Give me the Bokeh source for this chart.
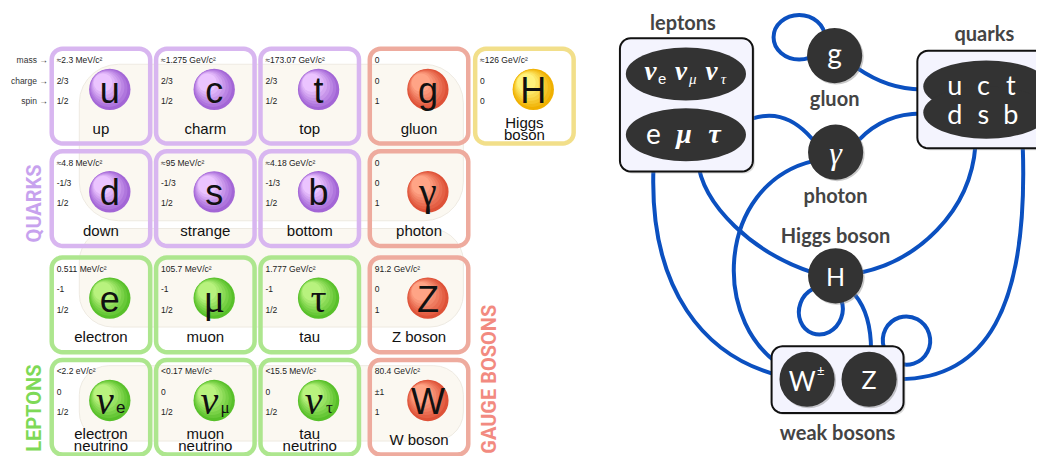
import numpy as np
from bokeh.plotting import figure
from bokeh.models import Range1d
from bokeh.embed import file_html
from bokeh.resources import INLINE
from bokeh.core.properties import value

# ---------------- DATA ----------------
symbols = ["u", "c", "t", "d", "s", "b", "e", "μ", "τ", "ν", "ν", "ν", "g", "γ", "Z", "W", "H"]
subscripts = ["", "", "", "", "", "", "", "", "", "e", "μ", "τ", "", "", "", "", ""]
names_1 = ["up", "charm", "top", "down", "strange", "bottom", "electron", "muon", "tau",
           "electron", "muon", "tau", "gluon", "photon", "Z boson", "W boson", "Higgs"]
names_2 = ["", "", "", "", "", "", "", "", "", "neutrino", "neutrino", "neutrino", "", "", "", "", "boson"]
masses = ["≈2.3 MeV/c²", "≈1.275 GeV/c²", "≈173.07 GeV/c²", "≈4.8 MeV/c²", "≈95 MeV/c²", "≈4.18 GeV/c²",
          "0.511 MeV/c²", "105.7 MeV/c²", "1.777 GeV/c²", "<2.2 eV/c²", "<0.17 MeV/c²", "<15.5 MeV/c²",
          "0", "0", "91.2 GeV/c²", "80.4 GeV/c²", "≈126 GeV/c²"]
charges = ["2/3", "2/3", "2/3", "-1/3", "-1/3", "-1/3", "-1", "-1", "-1", "0", "0", "0", "0", "0", "0", "±1", "0"]
spins = ["1/2"] * 12 + ["1", "1", "1", "1", "0"]
families = ["quark"] * 6 + ["lepton"] * 6 + ["boson"] * 4 + ["higgs"]
grid_rows = [0, 0, 0, 1, 1, 1, 2, 2, 2, 3, 3, 3, 0, 1, 2, 3, 0]
grid_cols = [0, 1, 2, 0, 1, 2, 0, 1, 2, 0, 1, 2, 3, 3, 3, 3, 4]
row_headers = ["mass →", "charge →", "spin →"]
group_titles = ["QUARKS", "LEPTONS", "GAUGE BOSONS"]

# interaction diagram
diagram_nodes = ["g", "γ", "H", "W", "Z"]
diagram_node_labels = ["gluon", "photon", "Higgs boson", "", ""]
diagram_groups = ["leptons", "quarks", "weak bosons"]
lepton_rows = [["ν", "ν", "ν"], ["e", "μ", "τ"]]
neutrino_subs = ["e", "μ", "τ"]
quark_rows = [["u", "c", "t"], ["d", "s", "b"]]
edges = [("leptons", "W"), ("eμτ", "γ"), ("eμτ", "H"), ("γ", "W"), ("g", "quarks"),
         ("γ", "quarks"), ("quarks", "H"), ("quarks", "Z"), ("H", "Z")]
self_loops = ["g", "H", "Z"]

# ---------------- LAYOUT / STYLE ----------------
COL_X = [52, 158, 264, 375, 482]
ROW_Y = [50, 156, 266, 372]
CELL = 100
fam_border = {"quark": "#d8b6f0", "lepton": "#ade68e", "boson": "#eeab9e", "higgs": "#f2df8a"}
fam_dark = {"quark": "#a366d6", "lepton": "#58c02a", "boson": "#de5238", "higgs": "#f0b000"}
fam_light = {"quark": "#ebc4ff", "lepton": "#b8f27e", "boson": "#ffa486", "higgs": "#fff27c"}
title_colors = ["#c7a2ee", "#7ed957", "#f28a80"]
BLUE = "#0b50c0"
NODE = "#333333"

p = figure(width=1036, height=456, x_range=Range1d(0, 1052), y_range=Range1d(472, 0),
           output_backend="svg", toolbar_location=None, min_border=0)
p.axis.visible = False
p.grid.visible = False
p.outline_line_color = None
p.background_fill_color = "white"
p.border_fill_color = "white"


def rrect(x0, y0, x1, y1, r, n=8):
    xs, ys = [], []
    corners = [(x1 - r, y0 + r, -np.pi / 2, 0), (x1 - r, y1 - r, 0, np.pi / 2),
               (x0 + r, y1 - r, np.pi / 2, np.pi), (x0 + r, y0 + r, np.pi, 1.5 * np.pi)]
    for cx, cy, a0, a1 in corners:
        for a in np.linspace(a0, a1, n):
            xs.append(cx + r * np.cos(a))
            ys.append(cy + r * np.sin(a))
    return xs, ys


def mix(c1, c2, t):
    a = [int(c1[i:i + 2], 16) for i in (1, 3, 5)]
    b = [int(c2[i:i + 2], 16) for i in (1, 3, 5)]
    return "#%02x%02x%02x" % tuple(int(round(a[k] + (b[k] - a[k]) * t)) for k in range(3))


# ---- background beige regions ----
bg = [rrect(80, 66, 470, 228, 40), rrect(80, 236, 470, 338, 34), rrect(80, 378, 470, 456, 30)]
p.patches([b[0] for b in bg], [b[1] for b in bg], fill_color="#faf6ee", fill_alpha=0.8,
          line_color="#eeeae2", line_width=1)

# ---- cells ----
x0s = [COL_X[c] for c in grid_cols]
y0s = [ROW_Y[r] for r in grid_rows]
boxes = [rrect(x, y, x + CELL, y + CELL - 2, 11) for x, y in zip(x0s, y0s)]
p.patches([b[0] for b in boxes], [b[1] for b in boxes], fill_alpha=0,
          line_color=[fam_border[f] for f in families], line_width=4.5)

# shaded spheres
cx = [x + 59 for x in x0s]
cy = [y + 42 for y in y0s]
R = 21
nl = 7
for k in range(nl):
    t = k / (nl - 1)
    rad = R * (1 - 0.55 * t)
    off = (R - rad) * 0.6
    p.circle([x - off for x in cx], [y - off for y in cy], radius=rad,
             fill_color=[mix(fam_dark[f], fam_light[f], t) for f in families], line_color=None)

serif_syms = {"μ", "τ", "ν", "γ"}
for i, s in enumerate(symbols):
    serif = s in serif_syms
    xs = cx[i] - (5 if subscripts[i] else 0)
    p.text([xs], [cy[i] + (1 if not serif else 0)], text=[s],
           text_font=value("Liberation Serif" if serif else "Liberation Sans"),
           text_font_style="italic" if s == "ν" else "normal",
           text_font_size="40px" if serif else "36px", text_align="center", text_baseline="middle",
           text_color="#111111")
    if subscripts[i]:
        p.text([xs + 16], [cy[i] + 7], text=[subscripts[i]],
               text_font=value("Liberation Serif" if subscripts[i] != "e" else "Liberation Sans"),
               text_font_size="17px", text_align="center", text_baseline="middle", text_color="#111111")

small = dict(text_font=value("Liberation Sans"), text_font_size="8.5px", text_baseline="middle",
             text_color="#222222", text_align="left")
p.text([x + 5 for x in x0s], [y + 12 for y in y0s], text=masses, **small)
p.text([x + 5 for x in x0s], [y + 33 for y in y0s], text=charges, **small)
p.text([x + 5 for x in x0s], [y + 54 for y in y0s], text=spins, **small)

one_line = [i for i in range(len(names_1)) if not names_2[i]]
two_line = [i for i in range(len(names_1)) if names_2[i]]
name_style = dict(text_font=value("Liberation Sans"), text_font_size="15px", text_align="center",
                  text_baseline="middle", text_color="#111111")
p.text([x0s[i] + 50 for i in one_line], [y0s[i] + 82 for i in one_line],
       text=[names_1[i] for i in one_line], **name_style)
p.text([x0s[i] + 50 for i in two_line], [y0s[i] + 76 for i in two_line],
       text=[names_1[i] for i in two_line], **name_style)
p.text([x0s[i] + 50 for i in two_line], [y0s[i] + 89 for i in two_line],
       text=[names_2[i] for i in two_line], **name_style)

# row headers
p.text([48] * 3, [ROW_Y[0] + 12, ROW_Y[0] + 33, ROW_Y[0] + 54], text=row_headers,
       text_font=value("Liberation Sans"), text_font_size="8.5px", text_align="right",
       text_baseline="middle", text_color="#333333")

# group titles (vertical)
p.text([34, 34, 496], [210, 422, 392], text=group_titles, angle=np.pi / 2,
       text_font=value("Roboto"), text_font_style="bold", text_font_size="20px",
       text_align="center", text_baseline="middle", text_color=title_colors)

# ---------------- interaction diagram ----------------
node_xy = {"g": (847, 57), "γ": (848, 157), "H": (848, 285), "W": (819, 392), "Z": (882, 392)}
NR = 28

# curves (start, c0, c1, end)
curve_geom = {
    ("leptons", "W"): ((663, 175), (659, 300), (715, 368), (790, 388)),
    ("eμτ", "γ"): ((750, 128), (780, 112), (805, 118), (828, 148)),
    ("eμτ", "H"): ((708, 165), (712, 212), (765, 262), (826, 282)),
    ("γ", "W"): ((826, 166), (725, 190), (720, 340), (800, 382)),
    ("g", "quarks"): ((870, 70), (890, 84), (910, 92), (935, 92)),
    ("γ", "quarks"): ((872, 144), (890, 125), (910, 117), (935, 117)),
    ("quarks", "H"): ((990, 150), (985, 220), (930, 270), (872, 282)),
    ("quarks", "Z"): ((1038, 150), (1044, 320), (1000, 392), (912, 392)),
    ("H", "Z"): ((868, 305), (880, 320), (884, 340), (884, 362)),
}
for e in edges:
    (xa, ya), (c0x, c0y), (c1x, c1y), (xb, yb) = curve_geom[e]
    p.bezier(x0=[xa], y0=[ya], x1=[xb], y1=[yb], cx0=[c0x], cy0=[c0y], cx1=[c1x], cy1=[c1y],
             line_color=BLUE, line_width=4)

loop_geom = {"g": (811, 38, 52, 46, 0.0), "H": (833, 321, 44, 50, -0.35), "Z": (920, 352, 48, 50, 0.3)}
for n in self_loops:
    lx, ly, lw, lh, la = loop_geom[n]
    p.ellipse([lx], [ly], width=lw, height=lh, angle=la, fill_alpha=0, line_color=BLUE, line_width=4)

# group boxes
gbox = {"leptons": (629, 39, 764, 177), "quarks": (931, 52, 1066, 153), "weak bosons": (783, 358, 917, 427)}
sh = [rrect(x0 + 2, y0 + 2, x1 + 2, y1 + 2, 11) for (x0, y0, x1, y1) in gbox.values()]
p.patches([s[0] for s in sh], [s[1] for s in sh], fill_color="#999999", fill_alpha=0.35, line_color=None)
gb = [rrect(*gbox[g], 11) for g in diagram_groups]
p.patches([b[0] for b in gb], [b[1] for b in gb], fill_color="#f4f4fe", line_color="#111111", line_width=2)

# group titles
p.text([693, 999, 850], [22, 34, 447], text=diagram_groups, text_font=value("Lato"),
       text_font_style="bold", text_font_size="20px", text_align="center", text_baseline="middle",
       text_color="#444444")

# lepton blobs
p.ellipse([696, 696], [76, 139], width=122, height=55, fill_color=NODE, line_color=None)
ell_x = [663, 694, 725]
for j, sym in enumerate(lepton_rows[0]):
    p.text([ell_x[j] - 3], [73], text=[sym], text_font=value("Liberation Serif"), text_font_style="bold italic",
           text_font_size="27px", text_align="center", text_baseline="middle", text_color="white")
    p.text([ell_x[j] + 9], [81], text=[neutrino_subs[j]],
           text_font=value("Liberation Serif" if j else "Liberation Sans"),
           text_font_style="italic" if j else "normal",
           text_font_size="15px", text_align="center", text_baseline="middle", text_color="white")
for j, sym in enumerate(lepton_rows[1]):
    p.text([ell_x[j]], [138], text=[sym],
           text_font=value("Liberation Serif" if j else "Lato"),
           text_font_style="bold italic" if j else "normal",
           text_font_size="28px", text_align="center", text_baseline="middle", text_color="white")

# quark blob
p.ellipse([1001, 1001], [89, 116], width=128, height=54, fill_color=NODE, line_color=None)
qx = [969, 998, 1026]
for r_i, (row, qy) in enumerate(zip(quark_rows, [87, 117])):
    p.text(qx, [qy] * 3, text=row, text_font=value("Lato"), text_font_size="27px",
           text_align="center", text_baseline="middle", text_color="white")

# nodes
nx = [node_xy[n][0] for n in diagram_nodes]
ny = [node_xy[n][1] for n in diagram_nodes]
p.circle([x + 1.5 for x in nx], [y + 1.5 for y in ny], radius=NR, fill_color="#777777", fill_alpha=0.4,
         line_color=None)
p.circle(nx, ny, radius=NR, fill_color=NODE, line_color=None)
for n, (x, y) in node_xy.items():
    if n == "γ":
        p.text([x], [y + 1], text=[n], text_font=value("Liberation Serif"), text_font_style="italic",
               text_font_size="32px", text_align="center", text_baseline="middle", text_color="white")
    elif n == "W":
        p.text([x - 5], [y + 2], text=["W"], text_font=value("Lato"), text_font_size="26px",
               text_align="center", text_baseline="middle", text_color="white")
        p.text([x + 14], [y - 9], text=["±"], text_font=value("Lato"), text_font_size="13px",
               text_align="center", text_baseline="middle", text_color="white")
    else:
        p.text([x], [y - (3 if n == "g" else 0)], text=[n], text_font=value("Lato"),
               text_font_size="28px" if n == "g" else "25px",
               text_align="center", text_baseline="middle", text_color="white")

lab = [i for i, l in enumerate(diagram_node_labels) if l]
p.text([nx[i] for i in lab], [ny[i] + (44 if diagram_nodes[i] != "H" else -42) for i in lab],
       text=[diagram_node_labels[i] for i in lab], text_font=value("Lato"), text_font_style="bold",
       text_font_size="20px", text_align="center", text_baseline="middle", text_color="#444444")

open("out.html", "w").write(file_html(p, INLINE))
